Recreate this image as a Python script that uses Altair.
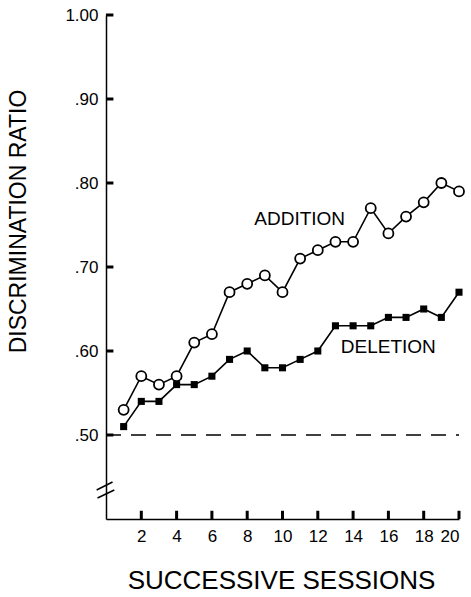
import altair as alt
import pandas as pd

sessions = list(range(1, 21))
addition = [0.53, 0.57, 0.56, 0.57, 0.61, 0.62, 0.67, 0.68, 0.69, 0.67,
            0.71, 0.72, 0.73, 0.73, 0.77, 0.74, 0.76, 0.777, 0.80, 0.79]
deletion = [0.51, 0.54, 0.54, 0.56, 0.56, 0.57, 0.59, 0.60, 0.58, 0.58,
            0.59, 0.60, 0.63, 0.63, 0.63, 0.64, 0.64, 0.65, 0.64, 0.67]

y_ticks = [0.5, 0.6, 0.7, 0.8, 0.9, 1.0]
x_ticks = [2, 4, 6, 8, 10, 12, 14, 16, 18, 20]

label_text = ["ADDITION", "DELETION"]
label_x = [8.4, 13.3]
label_y = [0.757, 0.605]

chance_level = 0.5
break_x1 = [-0.53, -0.48]
break_x2 = [0.37, 0.47]
break_y1 = [0.4345, 0.425]
break_y2 = [0.444, 0.4345]

FONT = "Liberation Sans"
W, H = 353, 504

add_df = pd.DataFrame({"session": sessions, "ratio": addition})
del_df = pd.DataFrame({"session": sessions, "ratio": deletion})
lab_df = pd.DataFrame({"label": label_text, "x": label_x, "y": label_y})
ytick_df = pd.DataFrame({"v": y_ticks, "x0": [0.0] * len(y_ticks), "x1": [0.42] * len(y_ticks)})
xtick_df = pd.DataFrame({"v": x_ticks, "y0": [0.40] * len(x_ticks), "y1": [0.4098] * len(x_ticks)})
chance_df = pd.DataFrame({"x": [0], "x2": [20], "y": [chance_level]})
brk_df = pd.DataFrame({"x": break_x1, "x2": break_x2, "y": break_y1, "y2": break_y2})

xscale = alt.Scale(domain=[0, 20], nice=False, zero=False)
yscale = alt.Scale(domain=[0.40, 1.00], nice=False, zero=False)

xaxis = alt.Axis(values=x_ticks, tickCount=40, format="d", ticks=False, grid=False, labelFont=FONT,
                 labelFontSize=17, labelColor="black", labelPadding=9,
                 labelOverlap=False,
                 domainColor="black", domainWidth=1.5,
                 title="SUCCESSIVE SESSIONS", titleFont=FONT, titleFontSize=26,
                 titleFontWeight="normal", titleColor="black",
                 titleX=175, titleY=61, titleBaseline="middle", titleAlign="center")
yaxis = alt.Axis(values=y_ticks, ticks=False, grid=False, labelFont=FONT,
                 labelFontSize=17, labelColor="black", labelPadding=8,
                 labelOverlap=False,
                 labelExpr="datum.value >= 1 ? '1.00' : '.' + substring(format(datum.value, '.2f'), 2)",
                 domainColor="black", domainWidth=1.5,
                 title="DISCRIMINATION RATIO", titleFont=FONT, titleFontSize=23,
                 titleFontWeight="normal", titleColor="black",
                 titleX=-88, titleY=206, titleBaseline="middle", titleAlign="center",
                 titleAngle=270)

chance = alt.Chart(chance_df).mark_rule(color="black", strokeWidth=1.5,
                                        strokeDash=[15, 10]).encode(
    x=alt.X("x:Q", scale=xscale, axis=xaxis),
    x2="x2:Q",
    y=alt.Y("y:Q", scale=yscale, axis=yaxis),
)

ytk = alt.Chart(ytick_df).mark_rule(color="black", strokeWidth=3).encode(
    y=alt.Y("v:Q", scale=yscale), x=alt.X("x0:Q", scale=xscale), x2="x1:Q")
xtk = alt.Chart(xtick_df).mark_rule(color="black", strokeWidth=3).encode(
    x=alt.X("v:Q", scale=xscale), y=alt.Y("y0:Q", scale=yscale), y2="y1:Q")

brk = alt.Chart(brk_df).mark_rule(color="black", strokeWidth=1.5).encode(
    x=alt.X("x:Q", scale=xscale), x2="x2:Q",
    y=alt.Y("y:Q", scale=yscale), y2="y2:Q")

del_line = alt.Chart(del_df).mark_line(color="black", strokeWidth=1.6).encode(
    x=alt.X("session:Q", scale=xscale), y=alt.Y("ratio:Q", scale=yscale))
del_pts = alt.Chart(del_df).mark_point(shape="square", filled=True, color="black",
                                       size=50, opacity=1).encode(
    x=alt.X("session:Q", scale=xscale), y=alt.Y("ratio:Q", scale=yscale))

add_line = alt.Chart(add_df).mark_line(color="black", strokeWidth=1.6).encode(
    x=alt.X("session:Q", scale=xscale), y=alt.Y("ratio:Q", scale=yscale))
add_pts = alt.Chart(add_df).mark_point(shape="circle", filled=False, fill="white",
                                       stroke="black", strokeWidth=1.8,
                                       size=100, opacity=1, fillOpacity=1).encode(
    x=alt.X("session:Q", scale=xscale), y=alt.Y("ratio:Q", scale=yscale))

labels = alt.Chart(lab_df).mark_text(font=FONT, fontSize=19, align="left",
                                     baseline="middle", color="black").encode(
    x=alt.X("x:Q", scale=xscale), y=alt.Y("y:Q", scale=yscale), text="label:N")

chart = alt.layer(chance, brk, del_line, del_pts, add_line, add_pts, labels, ytk, xtk).properties(
    width=W, height=H,
    autosize=alt.AutoSizeParams(type="none"),
    padding={"left": 106, "top": 15, "right": 12, "bottom": 78},
    background="white",
).configure_view(stroke=None)

chart.save("out.html", embed_options={"renderer": "svg", "actions": False})
